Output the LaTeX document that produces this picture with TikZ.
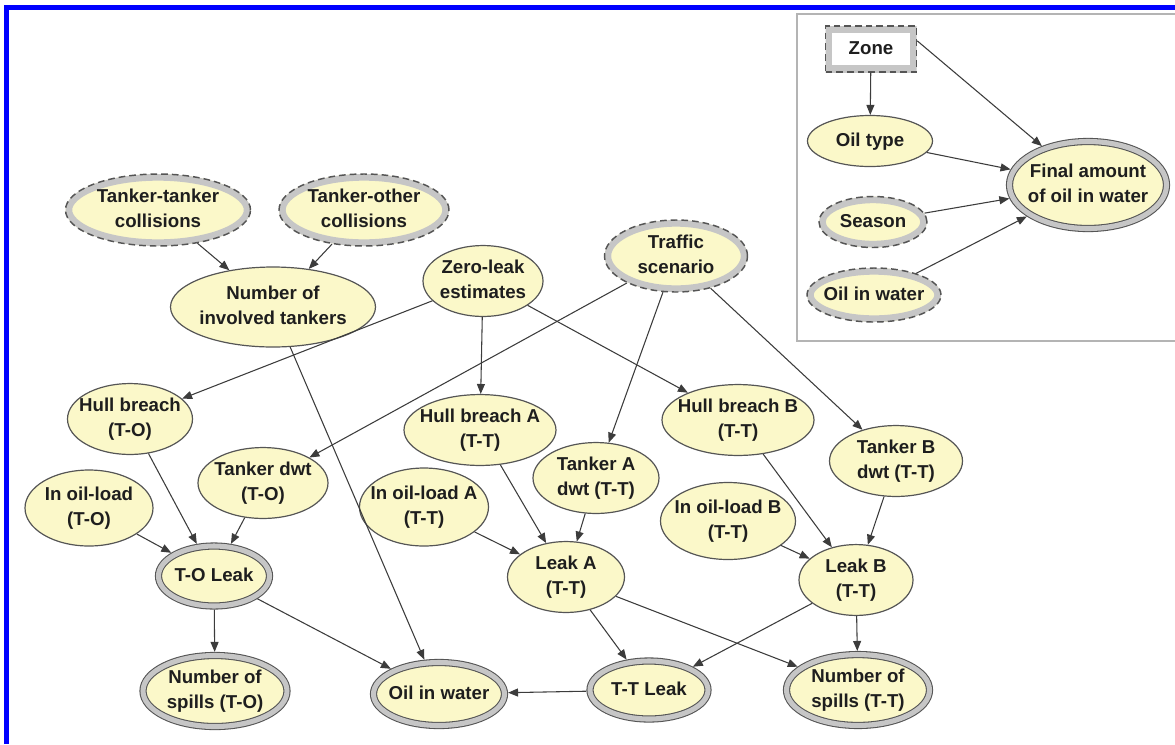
\documentclass[tikz,border=0pt]{standalone}
\usepackage{fontspec}
\setmainfont{Liberation Sans}
\usetikzlibrary{shapes.geometric,arrows.meta,calc}
\definecolor{nodefill}{HTML}{FBF8C9}
\definecolor{ringgray}{HTML}{C6C6C6}
\definecolor{edgecol}{HTML}{3C3C3C}
\definecolor{outline}{HTML}{555555}
\definecolor{framegray}{HTML}{B4B4B4}
\definecolor{txt}{HTML}{1E1E1E}
\newcommand{\lbl}[1]{\makebox[0pt]{\begin{tabular}{@{}c@{}}#1\end{tabular}}}
\tikzset{
  every node/.style={font=\fontsize{14}{18.8}\selectfont\bfseries, text=txt, inner sep=0pt},
  sz/.style 2 args={minimum width=#1*0.75pt, minimum height=#2*0.75pt},
  plain/.style={ellipse, draw=outline, line width=0.9pt, fill=nodefill},
  ring/.style={ellipse, fill=nodefill, draw=outline, line width=1.1pt, dash pattern=on 5pt off 3pt,
    path picture={\draw[ringgray, line width=10pt, solid]
      let \p1=(path picture bounding box.north east), \p2=(path picture bounding box.center) in
      (\p2) ellipse [x radius=\x1-\x2, y radius=\y1-\y2];}},
  dbl/.style={ellipse, fill=nodefill, draw=outline, line width=0.8pt, double=ringgray,
    double distance=3.8pt, outer sep=2.7pt},
  zonebox/.style={rectangle, fill=white, draw=outline, line width=1.1pt, dash pattern=on 5pt off 3pt,
    path picture={\draw[ringgray, line width=10pt, solid]
      (path picture bounding box.south west) rectangle (path picture bounding box.north east);}},
  arr/.style={draw=edgecol, line width=0.8pt, -{Triangle[length=7.5pt,width=6pt]}}
}
\begin{document}
\begin{tikzpicture}[x=0.75pt,y=-0.75pt]
\useasboundingbox (0,0) rectangle (1175,744);
% frame
\draw[blue, line width=3.75pt] (6.5,744) -- (6.5,7.5) -- (1175,7.5);
% legend box
\draw[framegray, line width=1.5pt, fill=white] (797,14) rectangle (1190,341);

% main network
\node[ring, sz={185}{72}] (tt) at (158,210) {\lbl{Tanker-tanker\\collisions}};
\node[ring, sz={170}{72}] (to) at (364,210) {\lbl{Tanker-other\\collisions}};
\node[plain, sz={205}{80}] (nit) at (273,307) {\lbl{Number of\\involved tankers}};
\node[plain, sz={120}{70}] (zle) at (483,281) {\lbl{Zero-leak\\estimates}};
\node[ring, sz={143}{72}] (traffic) at (676,256) {\lbl{Traffic\\scenario}};
\node[plain, sz={125}{70}] (hbto) at (130,419) {\lbl{Hull breach\\(T-O)}};
\node[plain, sz={152}{66}] (hba) at (480,430) {\lbl{Hull breach A\\(T-T)}};
\node[plain, sz={152}{66}] (hbb) at (738,420) {\lbl{Hull breach B\\(T-T)}};
\node[plain, sz={133}{68}] (tbdwt) at (896,461) {\lbl{Tanker B\\dwt (T-T)}};
\node[plain, sz={126}{70}] (tadwt) at (596,478) {\lbl{Tanker A\\dwt (T-T)}};
\node[plain, sz={130}{70}] (tdwt) at (263,483) {\lbl{Tanker dwt\\(T-O)}};
\node[plain, sz={128}{76}] (iol) at (89,508) {\lbl{In oil-load\\(T-O)}};
\node[plain, sz={129}{78}] (iola) at (424,507) {\lbl{In oil-load A\\(T-T)}};
\node[plain, sz={135}{77}] (iolb) at (728,521) {\lbl{In oil-load B\\(T-T)}};
\node[plain, sz={117}{68}] (leaka) at (566,577) {\lbl{Leak A\\(T-T)}};
\node[plain, sz={114}{66}] (leakb) at (856,580) {\lbl{Leak B\\(T-T)}};
\node[dbl, sz={111}{60}] (toleak) at (214,576) {\lbl{T-O Leak}};
\node[dbl, sz={144}{71}] (nsto) at (215,691) {\lbl{Number of\\spills (T-O)}};
\node[dbl, sz={131}{63}] (oiw) at (439,694) {\lbl{Oil in water}};
\node[dbl, sz={118}{58}] (ttleak) at (649,690) {\lbl{T-T Leak}};
\node[dbl, sz={143}{68}] (nstt) at (858,690) {\lbl{Number of\\spills (T-T)}};

% legend nodes
\node[zonebox, sz={91}{46}] (zone) at (871,49) {\lbl{Zone}};
\node[plain, sz={125}{51}] (oiltype) at (870,141) {\lbl{Oil type}};
\node[ring, sz={108}{51}] (season) at (873,222) {\lbl{Season}};
\node[ring, sz={134}{54}] (oiwl) at (874,295) {\lbl{Oil in water}};
\node[dbl, sz={157}{87}] (final) at (1088,185) {\lbl{Final amount\\of oil in water}};

% edges
\draw[arr] (tt) -- (nit);
\draw[arr] (to) -- (nit);
\draw[arr] (nit) -- (oiw);
\draw[arr] (zle) -- (hbto);
\draw[arr] (zle) -- (hba);
\draw[arr] (zle) -- (hbb);
\draw[arr] (traffic) -- (tdwt);
\draw[arr] (traffic) -- (tadwt);
\draw[arr] (traffic) -- (tbdwt);
\draw[arr] (hbto) -- (toleak);
\draw[arr] (tdwt) -- (toleak);
\draw[arr] (iol) -- (toleak);
\draw[arr] (toleak) -- (nsto);
\draw[arr] (toleak) -- (oiw);
\draw[arr] (hba) -- (leaka);
\draw[arr] (tadwt) -- (leaka);
\draw[arr] (iola) -- (leaka);
\draw[arr] (hbb) -- (leakb);
\draw[arr] (tbdwt) -- (leakb);
\draw[arr] (iolb) -- (leakb);
\draw[arr] (leaka) -- (ttleak);
\draw[arr] (leaka) -- (nstt);
\draw[arr] (leakb) -- (ttleak);
\draw[arr] (leakb) -- (nstt);
\draw[arr] (ttleak) -- (oiw);
% legend edges
\draw[arr] (zone) -- (oiltype);
\draw[arr] (zone.10) -- (final);
\draw[arr] (oiltype) -- (final);
\draw[arr] (season) -- (final);
\draw[arr] (oiwl) -- (final);
\end{tikzpicture}
\end{document}
